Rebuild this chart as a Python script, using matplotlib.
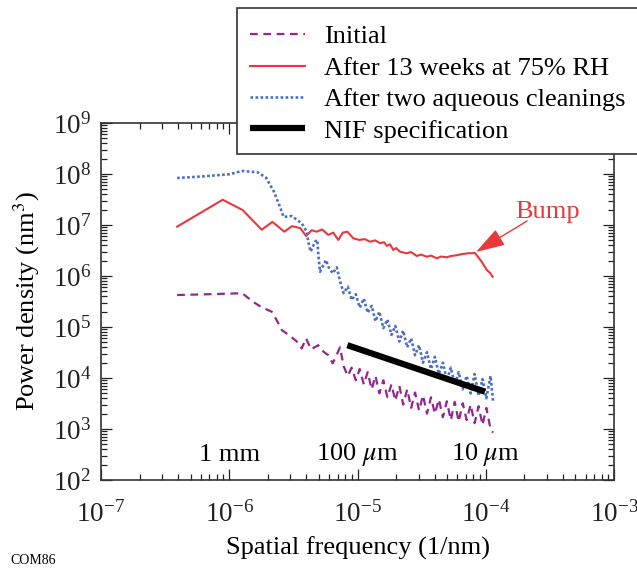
import matplotlib.pyplot as plt
from matplotlib.patches import Rectangle
from matplotlib.ticker import LogLocator, NullFormatter

plt.rcParams['font.family'] = 'Liberation Serif'
plt.rcParams['mathtext.fontset'] = 'stix'

# spatial frequency (1/nm) and power density (nm^3)
x_initial = [3.92e-7, 7.08e-7, 1.26e-6, 1.37e-6, 1.54e-6, 1.79e-6, 2.14e-6, 2.34e-6,
             2.57e-6, 2.98e-6, 3.36e-6, 3.67e-6, 3.97e-6, 4.34e-6, 4.94e-6, 5.41e-6,
             5.92e-6, 6.41e-6, 6.86e-6,
             7.3e-6, 7.8e-6, 8.4e-6, 9.0e-6, 9.7e-6, 10.4e-6, 11.2e-6, 12.0e-6,
             12.9e-6, 13.8e-6, 14.8e-6, 15.9e-6, 17.1e-6, 18.4e-6, 19.7e-6, 21.2e-6,
             22.7e-6, 24.4e-6, 26.2e-6, 28.1e-6, 30.2e-6, 32.4e-6, 34.8e-6, 37.4e-6,
             40.1e-6, 43.1e-6, 46.3e-6, 49.7e-6, 53.4e-6, 57.3e-6, 61.5e-6, 66.1e-6,
             71.0e-6, 76.2e-6, 81.8e-6, 87.9e-6, 94.4e-6, 101e-6, 109e-6, 114e-6]
y_initial = [4.24e5, 4.4e5, 4.6e5, 3.9e5, 3.1e5, 2.43e5, 2.0e5, 1.37e5,
             8.7e4, 6.7e4, 5.2e4, 3.8e4, 6.0e4, 3.65e4, 4.4e4, 3.3e4,
             2.8e4, 1.94e4, 2.8e4,
             4.0e4, 1.7e4, 1.1e4, 1.6e4, 9.0e3, 1.5e4, 7.5e3, 1.3e4,
             6.0e3, 1.1e4, 5.0e3, 9.0e3, 4.2e3, 7.5e3, 3.6e3, 7.0e3,
             3.0e3, 6.0e3, 2.6e3, 5.2e3, 2.3e3, 4.6e3, 2.0e3, 4.2e3,
             2.0e3, 3.8e3, 1.7e3, 3.5e3, 1.5e3, 3.4e3, 1.4e3, 3.2e3,
             1.5e3, 3.0e3, 1.3e3, 2.8e3, 1.2e3, 2.6e3, 1.0e3, 8.5e2]

x_humid = [3.92e-7, 8.9e-7, 1.27e-6, 1.79e-6, 2.17e-6, 2.69e-6, 3.08e-6, 3.58e-6,
           3.97e-6, 4.39e-6, 4.81e-6, 5.29e-6, 5.92e-6, 6.47e-6, 7.08e-6, 7.67e-6,
           8.33e-6, 9.27e-6, 1.03e-5, 1.14e-5, 1.25e-5, 1.37e-5, 1.50e-5, 1.61e-5,
           1.69e-5, 1.79e-5, 1.90e-5, 2.0e-5, 2.14e-5, 2.42e-5, 2.61e-5, 2.90e-5,
           3.13e-5, 3.47e-5, 3.74e-5, 4.15e-5, 4.48e-5, 4.96e-5, 5.36e-5, 5.93e-5,
           6.53e-5, 7.31e-5, 8.24e-5, 9.29e-5, 1.02e-4, 1.08e-4, 1.13e-4]
y_humid = [9.3e6, 3.13e7, 1.97e7, 8.1e6, 1.15e7, 7.4e6, 9.5e6, 8.7e6,
           6.1e6, 7.9e6, 7.4e6, 8.2e6, 6.4e6, 7.1e6, 5.1e6, 7.1e6,
           7.4e6, 5.5e6, 5.1e6, 5.3e6, 4.7e6, 5.0e6, 4.4e6, 4.6e6,
           3.9e6, 4.2e6, 3.24e6, 3.54e6, 3.0e6, 2.79e6, 2.95e6, 2.47e6,
           2.63e6, 2.39e6, 2.52e6, 2.22e6, 2.41e6, 2.33e6, 2.47e6, 2.55e6,
           2.70e6, 2.79e6, 2.82e6, 1.91e6, 1.31e6, 1.15e6, 9.7e5]

x_cleaned = [3.92e-7, 5.91e-7, 1.01e-6, 1.26e-6, 1.67e-6, 1.94e-6, 2.24e-6, 2.49e-6,
             2.65e-6, 3.07e-6, 3.67e-6, 4.02e-6, 4.13e-6, 4.31e-6, 4.66e-6, 4.86e-6,
             4.95e-6, 5.10e-6, 5.68e-6, 5.92e-6, 6.41e-6, 6.89e-6,
             7.3e-6, 7.8e-6, 8.4e-6, 9.0e-6, 9.7e-6, 10.4e-6, 11.2e-6, 12.0e-6,
             12.9e-6, 13.8e-6, 14.8e-6, 15.9e-6, 17.1e-6, 18.4e-6, 19.7e-6, 21.2e-6,
             22.7e-6, 24.4e-6, 26.2e-6, 28.1e-6, 30.2e-6, 32.4e-6, 34.8e-6, 37.4e-6,
             40.1e-6, 43.1e-6, 46.3e-6, 49.7e-6, 53.4e-6, 57.3e-6, 61.5e-6, 66.1e-6,
             71.0e-6, 76.2e-6, 81.8e-6, 87.9e-6, 94.4e-6, 101e-6, 109e-6, 114e-6]
y_cleaned = [8.35e7, 8.9e7, 9.9e7, 1.15e8, 1.08e8, 8.4e7, 4.4e7, 2.25e7,
             1.44e7, 1.5e7, 1.08e7, 7.4e6, 4.7e6, 3.0e6, 4.7e6, 5.1e6,
             2.58e6, 1.21e6, 2.06e6, 1.52e6, 1.13e6, 1.48e6,
             8.0e5, 4.6e5, 6.2e5, 3.4e5, 4.4e5, 2.4e5, 3.6e5, 1.9e5,
             2.6e5, 1.3e5, 2.0e5, 9.5e4, 1.4e5, 7.0e4, 1.05e5, 5.2e4,
             8.5e4, 4.0e4, 6.0e4, 2.8e4, 4.4e4, 2.0e4, 3.2e4, 1.5e4,
             2.6e4, 1.2e4, 2.0e4, 9.0e3, 1.6e4, 7.5e3, 1.3e4, 6.0e3,
             1.1e4, 5.0e3, 1.2e4, 4.5e3, 9.5e3, 4.0e3, 1.1e4, 3.5e3]

x_spec = [8.33e-6, 9.86e-5]
y_spec = [4.4e4, 5.4e3]

period_x = [1e-6, 1e-5, 1e-4]
period_labels = ['1 mm', '100 $\\mu$m', '10 $\\mu$m']

purple = '#93278f'
red = '#e8383d'
blue = '#4a6fc4'
fs = 19

fig = plt.figure(figsize=(6.37, 5.69), dpi=100)
ax = fig.add_axes([0.1586, 0.1564, 0.8053, 0.6274])

l1, = ax.plot(x_initial, y_initial, color=purple, lw=1.6, ls=(0, (3.5, 2.5)))
l2, = ax.plot(x_humid, y_humid, color=red, lw=1.5)
l3, = ax.plot(x_cleaned, y_cleaned, color=blue, lw=1.9, ls=(0, (1, 0.9)))
l4, = ax.plot(x_spec, y_spec, color='black', lw=4.5, solid_capstyle='butt')

ax.set_xscale('log')
ax.set_yscale('log')
ax.set_xlim(1e-7, 1e-3)
ax.set_ylim(1e2, 1e9)
for axis in (ax.xaxis, ax.yaxis):
    axis.set_major_locator(LogLocator(base=10, numticks=20))
    axis.set_minor_locator(LogLocator(base=10, subs=range(2, 10), numticks=20))
    axis.set_minor_formatter(NullFormatter())
ax.tick_params(which='both', direction='in', top=True, right=True,
               labelsize=fs + 0.5, colors='#222222', width=0.9)
ax.tick_params(which='major', length=8, pad=7)
ax.tick_params(axis='x', which='major', pad=15)
ax.tick_params(which='minor', length=4)
for s in ax.spines.values():
    s.set_linewidth(1.2)
    s.set_color('#333333')

ax.set_xlabel('Spatial frequency (1/nm)', fontsize=fs, labelpad=7)
ax.set_ylabel('Power density (nm$^3$)', fontsize=fs, labelpad=8)

for px, lab in zip(period_x, period_labels):
    ax.text(px, 3.1e2, lab, fontsize=fs, ha='center', va='center')

ax.text(3.05e-4, 1.8e7, 'Bump', color=red, fontsize=fs, ha='center', va='center')
ax.annotate('', xy=(8.4e-5, 2.96e6), xytext=(2.1e-4, 1.2e7),
            arrowprops=dict(arrowstyle='-|>,head_length=0.9,head_width=0.28',
                            color=red, lw=1.0, mutation_scale=20,
                            shrinkA=0, shrinkB=0))

fig.text(10 / 637, 2 / 569, 'COM86', fontsize=10, va='bottom')

frame = Rectangle((237 / 637, 1 - 154 / 569), 420 / 637, 146 / 569,
                  transform=fig.transFigure, facecolor='white',
                  edgecolor='#333333', lw=1.2, zorder=5, clip_on=False)
fig.patches.append(frame)
leg = fig.legend([l1, l2, l3, l4],
                 ['Initial', 'After 13 weeks at 75% RH',
                  'After two aqueous cleanings', 'NIF specification'],
                 loc='upper left', bbox_to_anchor=(250 / 637, 1 - 25 / 569),
                 frameon=False, fontsize=fs, borderpad=0, borderaxespad=0,
                 handlelength=2.1, handletextpad=0.72, labelspacing=0.3)
leg.set_zorder(6)

fig.savefig('out.png', dpi=100)
